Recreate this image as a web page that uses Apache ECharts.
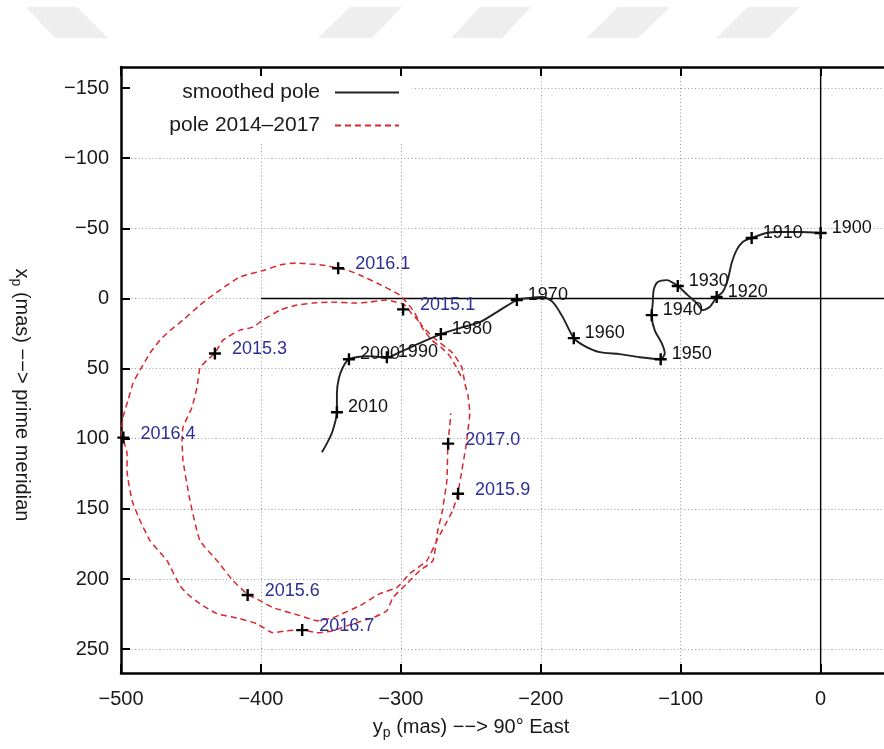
<!DOCTYPE html>
<html>
<head>
<meta charset="utf-8">
<script src="https://cdn.jsdelivr.net/npm/echarts@6/dist/echarts.min.js"></script>
<style>html,body{margin:0;padding:0;background:#fff}#c{width:884px;height:749px}</style>
</head>
<body>
<div id="c"></div>
<script>
// smoothed pole path (y_p, x_p in mas)
const poleX = [0, -15, -29.3, -38.6, -49.3, -55.7, -60, -63.6, -66.4, -70, -74.3, -79.3, -84.3, -88.6, -95, -102.1, -110, -116.4, -119.3, -120, -120.7, -118.6, -113.6, -111.4, -114.3, -129.3, -143.6, -157.9, -168.6, -176.4, -184.3, -191.4, -198.6, -207.9, -217.1, -231.4, -243.6, -257.9, -271.4, -286.4, -300.7, -310, -324.3, -337.1, -341.4, -344.3, -345.7, -345.7, -348.6, -352.1, -356.4];
const poleY = [-46.7, -47.4, -47.4, -46.7, -43.1, -40.3, -34.6, -25.3, -13.1, -4.6, -1, 6.1, 8.3, 3.3, -2.4, -8.9, -13.1, -11.7, -6, 3.3, 11.9, 22.6, 31.9, 39, 43.3, 41.9, 39.7, 38.3, 34, 28.3, 13.3, 2.6, -1, -0.3, 1.1, 9.7, 16.9, 21.1, 25.4, 31.9, 38.3, 41.9, 41.1, 43.3, 49, 56.9, 67.6, 81.1, 93.9, 101.9, 109.7];

// decade markers
const decadeYears = ['1900','1910','1920','1930','1940','1950','1960','1970','1980','1990','2000','2010'];
const decadeX = [0, -49.3, -74.3, -102.1, -120.7, -114.3, -176.4, -217.1, -271.4, -310, -337.1, -345.7];
const decadeY = [-46.7, -43.1, -1, -8.9, 11.9, 43.3, 28.3, 1.1, 25.4, 41.9, 43.3, 81.1];

// pole 2014-2017 path
const redX = [-257.1,-260.7,-265.0,-270.7,-277.9,-283.6,-287.9,-292.1,-297.1,-302.9,
 -311.4,-322.1,-332.9,-350.7,-362.9,-374.3,-386.4,-398.6,-405.7,-415,
 -427.1,-432.9,-438.6,-443.6,-445.7,-449.3,-455.7,-456.4,-455.7,-450.7,
 -443.6,-431.4,-420,-409.3,-400.7,-391.4,-372.1,-360,-348.6,-329.3,
 -315,-302.9,-293.6,-281.4,-274.3,-268.6,-262.9,-259.3,-256.4,-253.6,
 -252.1,-250.7,-252.1,-254.3,-256.4,-262.9,-274.3,-284.3,-291.4,-300.7,
 -317.1,-329.3,-338.6,-345,-356.4,-365,-375,-386.4,-397.1,-415,
 -429.3,-443.6,-455.7,-467.1,-472.1,-479.3,-486.4,-491.4,-495,-498.6,
 -499.5,-499,-495.7,-495.7,-492.1,-486.4,-479.3,-472.1,-467.1,-457.9,
 -452.9,-443.6,-431.4,-415,-402.9,-391.4,-381.4,-370.7,-360,-348.6,
 -334.3,-320,-310,-305.7,-295.7,-286.4,-277.1,-273.6,-270.7,-267.1,
 -266.4,-265,-264.3];
const redY = [55.4,48.3,41.1,35.4,29.7,22.6,15.4,11.1,4.7,2.6,
 1.1,2.6,3.3,2.6,3.3,4.7,8.3,15.4,20.4,22.6,
 29.7,39,44,49.7,63.3,77.6,91.9,101.1,115.4,144,
 172.6,186.9,201.1,211.1,215.4,220.4,226.1,229.7,227.6,219,
 210.4,206.1,196.1,186.9,172.6,161.9,151.1,139,122.6,106.1,
 94,81.9,69,60.4,49,39,29.7,20.4,8.3,-2.4,
 -11,-16.7,-20.3,-21.7,-23.9,-24.6,-25.3,-23.9,-20.3,-15.3,
 -6,4.7,15.4,24.7,29.7,39,51.1,60.4,72.6,84.7,
 94,99,110.4,122.6,144,158.3,172.6,181.1,186.9,204.7,
 210.4,217.6,224.7,228.3,231.9,238.3,236.9,236.1,238.3,236.9,
 231.9,227.6,222.6,213.3,203.3,194,186.9,165.4,153.3,129.7,
 103.3,90.4,81.9];

// epoch markers on the 2014-2017 path
const redYears = ['2015.1','2015.3','2015.6','2015.9','2016.1','2016.4','2016.7','2017.0'];
const redMarkX = [-298.4, -432.9, -409.5, -259.1, -344.8, -498.3, -370.5, -266.2];
const redMarkY = [7.8, 39.2, 211.4, 139.2, -21.5, 99.2, 236.4, 103.5];

// zero axes
const zeroVX = [0, 0], zeroVY = [-165, 267];
const zeroHX = [-400, 46], zeroHY = [0, 0];

const xMin = -500, xMax = 46, yMin = -165, yMax = 267;

const FONT = 'Liberation Sans, Arial, Helvetica, sans-serif';
const fmt = v => (v < 0 ? '\u2212' + Math.abs(v) : String(v));
const zip = (a, b) => a.map((v, i) => [v, b[i]]);
const PLUS = 'path://M4,0H6V4H10V6H6V10H4V6H0V4H4Z';

const chart = echarts.init(document.getElementById('c'), null, {renderer: 'canvas'});

const axisCommon = {
  type: 'value',
  axisLine: {show: true, onZero: false, lineStyle: {color: '#000', width: 2.5}},
  axisTick: {show: true, inside: true, length: 9, lineStyle: {color: '#000', width: 2}},
};

const legendCommon = {
  right: 484, padding: 0, align: 'right', itemWidth: 64, itemHeight: 14,
  selectedMode: false, itemStyle: {opacity: 0},
  textStyle: {fontSize: 21, color: '#1a1a1a', fontFamily: FONT, padding: [0, 10, 0, 0]}
};

const option = {
  animation: false,
  backgroundColor: '#fff',
  textStyle: {fontFamily: FONT},
  grid: {left: 121, top: 67, width: 764, height: 606, containLabel: false, outerBoundsMode: 'none'},
  xAxis: [
    Object.assign({}, axisCommon, {
      position: 'bottom', min: xMin, max: xMax, minInterval: 100, maxInterval: 100, splitNumber: 5,
      axisLabel: {show: true, formatter: fmt, fontSize: 20, color: '#1a1a1a', margin: 16, fontFamily: FONT, showMaxLabel: false, showMinLabel: true},
      splitLine: {show: true, lineStyle: {color: '#9a9a9a', type: [1, 2.5], width: 1}}
    }),
    Object.assign({}, axisCommon, {
      position: 'top', min: xMin, max: xMax, minInterval: 100, maxInterval: 100, splitNumber: 5,
      axisLabel: {show: false}, splitLine: {show: false}
    })
  ],
  yAxis: [
    Object.assign({}, axisCommon, {
      position: 'left', inverse: true, min: yMin, max: yMax, minInterval: 50, maxInterval: 50, splitNumber: 8,
      axisLabel: {show: true, formatter: fmt, fontSize: 20, color: '#1a1a1a', margin: 12, fontFamily: FONT, showMinLabel: false, showMaxLabel: false},
      splitLine: {show: true, lineStyle: {color: '#9a9a9a', type: [1, 2.5], width: 1}}
    })
  ],
  legend: [
    Object.assign({}, legendCommon, {data: ['smoothed pole'], top: 82}),
    Object.assign({}, legendCommon, {data: ['pole 2014\u20132017'], top: 115})
  ],
  graphic: [
    {type: 'polygon', shape: {points: [[26,7],[77,7],[108,38],[55,38]]}, style: {fill: '#eeeeee'}, silent: true},
    {type: 'polygon', shape: {points: [[350,7],[402,7],[372,38],[318,38]]}, style: {fill: '#eeeeee'}, silent: true},
    {type: 'polygon', shape: {points: [[480,7],[531,7],[502,38],[451,38]]}, style: {fill: '#eeeeee'}, silent: true},
    {type: 'polygon', shape: {points: [[618,7],[670,7],[638,38],[586,38]]}, style: {fill: '#eeeeee'}, silent: true},
    {type: 'polygon', shape: {points: [[748,7],[800,7],[768,38],[716,38]]}, style: {fill: '#eeeeee'}, silent: true},
    {type: 'rect', shape: {x: 131, y: 77, width: 281, height: 65}, style: {fill: '#fff'}, z: 3, silent: true},
    {type: 'text', x: 471, y: 727, silent: true,
     style: {text: '{n|y}{s|p}{n| (mas) \u2212\u2212> 90\u00b0 East}', align: 'center', verticalAlign: 'middle', fill: '#1a1a1a',
       rich: {n: {fontSize: 20, fontFamily: FONT, fill: '#1a1a1a'}, s: {fontSize: 14, fontFamily: FONT, fill: '#1a1a1a', padding: [12, 0, 0, 0]}}}},
    {type: 'text', x: 22, y: 395, rotation: -Math.PI / 2, silent: true,
     style: {text: '{n|x}{s|p}{n| (mas) \u2212\u2212> prime meridian}', align: 'center', verticalAlign: 'middle', fill: '#1a1a1a',
       rich: {n: {fontSize: 20, fontFamily: FONT, fill: '#1a1a1a'}, s: {fontSize: 14, fontFamily: FONT, fill: '#1a1a1a', padding: [12, 0, 0, 0]}}}}
  ],
  series: [
    {type: 'line', name: 'zeroV', data: zip(zeroVX, zeroVY), symbol: 'none', silent: true, z: 1,
     lineStyle: {color: '#000', width: 1.4}},
    {type: 'line', name: 'zeroH', data: zip(zeroHX, zeroHY), symbol: 'none', silent: true, z: 1,
     lineStyle: {color: '#000', width: 1.4}},
    {type: 'line', name: 'smoothed pole', data: zip(poleX, poleY), symbol: 'none', smooth: 0.25, z: 3,
     color: '#222', lineStyle: {color: '#222', width: 1.9}},
    {type: 'line', name: 'pole 2014\u20132017', data: zip(redX, redY), symbol: 'none', smooth: 0.15, z: 2,
     color: '#d9262c', lineStyle: {color: '#d9262c', width: 1.5, type: [6, 4]}},
    {type: 'scatter', name: 'decades', data: decadeYears.map((n, i) => ({name: n, value: [decadeX[i], decadeY[i]]})),
     symbol: PLUS, symbolSize: 12, z: 5, itemStyle: {color: '#000', opacity: 1},
     label: {show: true, position: 'right', distance: 5, offset: [0, -5], formatter: p => p.name, fontSize: 18, color: '#111', opacity: 1, fontFamily: FONT}},
    {type: 'scatter', name: 'epochs', data: redYears.map((n, i) => ({name: n, value: [redMarkX[i], redMarkY[i]]})),
     symbol: PLUS, symbolSize: 12, z: 5, itemStyle: {color: '#000', opacity: 1},
     label: {show: true, position: 'right', distance: 11, offset: [0, -4], formatter: p => p.name, fontSize: 18, color: '#2e2e98', opacity: 1, fontFamily: FONT}}
  ]
};
chart.setOption(option);
</script>
</body>
</html>
